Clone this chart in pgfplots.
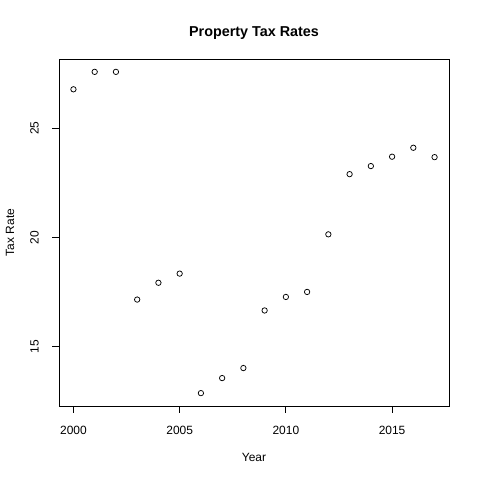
\documentclass[border=0pt]{standalone}
\usepackage{fontspec}
\setmainfont{Liberation Sans}
\usepackage{pgfplots}
\pgfplotsset{compat=1.18}
\begin{document}
\begin{tikzpicture}[x=1bp,y=1bp]
\useasboundingbox (0,0) rectangle (480,480);
\begin{axis}[
  at={(59bp,74bp)}, anchor=south west,
  scale only axis, width=390bp, height=347bp,
  xmin=1999.32, xmax=2017.68, ymin=12.27, ymax=28.18,
  xtick={2000,2005,2010,2015}, ytick={15,20,25},
  tick align=outside, tick pos=left, major tick length=7bp,
  axis line style={line width=0.75bp},
  every tick/.style={black, line width=0.75bp},
  /pgf/number format/assume math mode=true,
  /pgf/number format/1000 sep={},
  ticklabel style={font=\fontsize{12}{14}\selectfont},
  xticklabel style={anchor=north, inner sep=0pt, yshift=-13bp},
  yticklabel style={rotate=90, anchor=south, inner sep=0pt, yshift=13bp},
  xlabel={Year}, ylabel={Tax Rate},
  label style={font=\fontsize{12}{14}\selectfont},
  xlabel style={at={(axis description cs:0.5,0)}, anchor=center, yshift=-51bp},
  ylabel style={at={(axis description cs:0,0.5)}, anchor=center, yshift=49bp},
  title={Property Tax Rates},
  title style={font=\fontsize{14.4}{16}\bfseries\selectfont, at={(axis description cs:0.5,1)}, anchor=center, yshift=20bp},
  clip=false,
]
\addplot[only marks, mark=o, mark size=2.7bp, mark options={line width=0.75bp, black}] coordinates {
(2000,26.79) (2001,27.59) (2002,27.59) (2003,17.15) (2004,17.92) (2005,18.34)
(2006,12.86) (2007,13.55) (2008,14.01) (2009,16.65) (2010,17.27) (2011,17.50)
(2012,20.14) (2013,22.90) (2014,23.27) (2015,23.70) (2016,24.11) (2017,23.68)
};
\end{axis}
\end{tikzpicture}
\end{document}
